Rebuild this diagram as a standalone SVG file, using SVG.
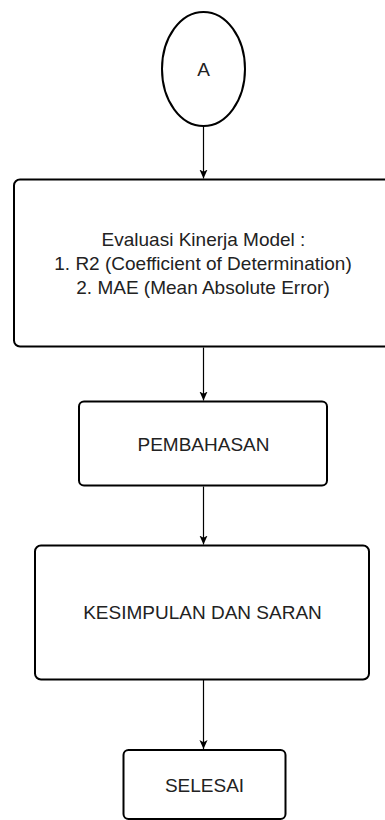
<svg xmlns="http://www.w3.org/2000/svg" width="385" height="820" viewBox="0 0 385 820">
  <style>
    .shape { fill: #ffffff; stroke: #000000; stroke-width: 2; }
    .label { font-family: "Liberation Sans", Arial, sans-serif; font-size: 19px; fill: #222222; text-anchor: middle; }
    .edge { fill: none; stroke: #000000; stroke-width: 1.2; }
  </style>
  <defs>
    <marker id="arrow" viewBox="0 0 10 10" refX="10" refY="5" markerWidth="9" markerHeight="9" markerUnits="userSpaceOnUse" orient="auto">
      <path d="M0,0.5 L10,5 L0,9.5 L2.5,5 z" fill="#000000" stroke="none"/>
    </marker>
  </defs>
  <rect x="0" y="0" width="385" height="820" fill="#ffffff"/>

  <g id="connectors">
    <line class="edge" x1="203.5" y1="126" x2="203.5" y2="178.5" marker-end="url(#arrow)"/>
    <line class="edge" x1="203.5" y1="347.5" x2="203.5" y2="400.5" marker-end="url(#arrow)"/>
    <line class="edge" x1="203.5" y1="486.5" x2="203.5" y2="544.5" marker-end="url(#arrow)"/>
    <line class="edge" x1="203.5" y1="680" x2="203.5" y2="749" marker-end="url(#arrow)"/>
  </g>

  <g id="node-a">
    <ellipse class="shape" cx="203.5" cy="69" rx="41.5" ry="57"/>
    <text class="label" x="203.5" y="75.5">A</text>
  </g>

  <g id="node-evaluasi">
    <rect class="shape" x="14" y="179.5" width="378" height="167" rx="6" ry="6"/>
    <text class="label" x="203.5" y="245.5">Evaluasi Kinerja Model :</text>
    <text class="label" x="203" y="269.5">1. R2 (Coefficient of Determination)</text>
    <text class="label" x="203" y="293.5">2. MAE (Mean Absolute Error)</text>
  </g>

  <g id="node-pembahasan">
    <rect class="shape" x="79" y="401.5" width="248" height="84" rx="5" ry="5"/>
    <text class="label" x="203.5" y="450.5">PEMBAHASAN</text>
  </g>

  <g id="node-kesimpulan">
    <rect class="shape" x="35" y="545.5" width="334" height="134" rx="6" ry="6"/>
    <text class="label" x="202.5" y="619">KESIMPULAN DAN SARAN</text>
  </g>

  <g id="node-selesai">
    <rect class="shape" x="123.5" y="750" width="162" height="69" rx="5" ry="5"/>
    <text class="label" x="204.5" y="791.5">SELESAI</text>
  </g>
</svg>
